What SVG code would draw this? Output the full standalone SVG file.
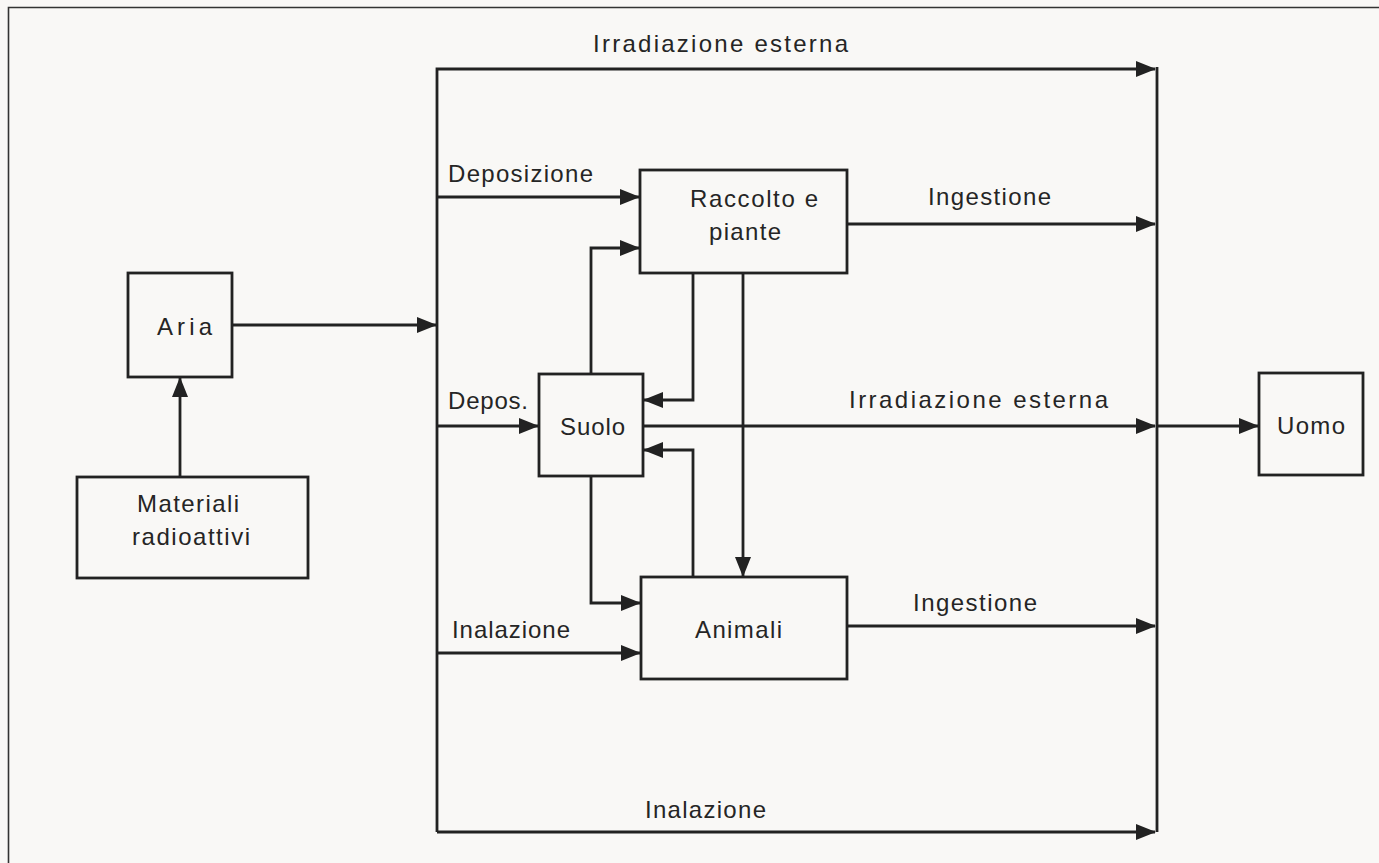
<svg xmlns="http://www.w3.org/2000/svg" width="1379" height="863" viewBox="0 0 1379 863">
<style>
.bg{fill:#f9f8f6}
.box{fill:none;stroke:#222;stroke-width:2.8}
.ln{fill:none;stroke:#222;stroke-width:2.8}
.lbl{font-family:"Liberation Sans",Arial,Helvetica,sans-serif;font-size:24px;fill:#252525}
</style>
<defs>
<marker id="ah" markerUnits="userSpaceOnUse" markerWidth="22" markerHeight="18" refX="19" refY="8" orient="auto">
<path d="M0,0 L20,8 L0,16 z" fill="#222"/>
</marker>
</defs>
<rect class="bg" x="0" y="0" width="1379" height="863"/>
<path d="M8.5,863 V7.5 H1379" fill="none" stroke="#333" stroke-width="1.6"/>

<g id="connectors">
<path class="ln" d="M180,477 V378" marker-end="url(#ah)"/>
<path class="ln" d="M232,325 H436" marker-end="url(#ah)"/>
<path class="ln" d="M437,832 V69 H1155" marker-end="url(#ah)"/>
<path class="ln" d="M437,832 H1155" marker-end="url(#ah)"/>
<path class="ln" d="M1157,67 V832"/>
<path class="ln" d="M437,197 H639" marker-end="url(#ah)"/>
<path class="ln" d="M437,426 H538" marker-end="url(#ah)"/>
<path class="ln" d="M437,653 H640" marker-end="url(#ah)"/>
<path class="ln" d="M847,224 H1155" marker-end="url(#ah)"/>
<path class="ln" d="M847,626 H1155" marker-end="url(#ah)"/>
<path class="ln" d="M643,426 H1155" marker-end="url(#ah)"/>
<path class="ln" d="M1157,426 H1258" marker-end="url(#ah)"/>
<path class="ln" d="M591,374 V248 H639" marker-end="url(#ah)"/>
<path class="ln" d="M693,273 V400 H644" marker-end="url(#ah)"/>
<path class="ln" d="M693,577 V450 H644" marker-end="url(#ah)"/>
<path class="ln" d="M743,273 V576" marker-end="url(#ah)"/>
<path class="ln" d="M591,476 V603 H640" marker-end="url(#ah)"/>
<text class="lbl" x="593" y="52" textLength="255" lengthAdjust="spacing">Irradiazione  esterna</text>
<text class="lbl" x="448" y="182" textLength="145" lengthAdjust="spacing">Deposizione</text>
<text class="lbl" x="928" y="205" textLength="123" lengthAdjust="spacing">Ingestione</text>
<text class="lbl" x="448" y="409" textLength="80" lengthAdjust="spacing">Depos.</text>
<text class="lbl" x="849" y="408" textLength="259" lengthAdjust="spacing">Irradiazione  esterna</text>
<text class="lbl" x="452" y="638" textLength="118" lengthAdjust="spacing">Inalazione</text>
<text class="lbl" x="913" y="611" textLength="124" lengthAdjust="spacing">Ingestione</text>
<text class="lbl" x="645" y="818" textLength="121" lengthAdjust="spacing">Inalazione</text>
</g>

<g id="aria">
<rect class="box" x="128" y="273" width="104" height="104"/>
<text class="lbl" x="157" y="335" textLength="55" lengthAdjust="spacing">Aria</text>
</g>
<g id="materiali">
<rect class="box" x="77" y="477" width="231" height="101"/>
<text class="lbl" x="137" y="512" textLength="102" lengthAdjust="spacing">Materiali</text>
<text class="lbl" x="132" y="545" textLength="118" lengthAdjust="spacing">radioattivi</text>
</g>
<g id="raccolto">
<rect class="box" x="640" y="170" width="207" height="103"/>
<text class="lbl" x="690" y="207" textLength="128" lengthAdjust="spacing">Raccolto e</text>
<text class="lbl" x="709" y="240" textLength="72" lengthAdjust="spacing">piante</text>
</g>
<g id="suolo">
<rect class="box" x="539" y="374" width="104" height="102"/>
<text class="lbl" x="560" y="435" textLength="65" lengthAdjust="spacing">Suolo</text>
</g>
<g id="animali">
<rect class="box" x="641" y="577" width="206" height="102"/>
<text class="lbl" x="695" y="638" textLength="87" lengthAdjust="spacing">Animali</text>
</g>
<g id="uomo">
<rect class="box" x="1259" y="373" width="104" height="102"/>
<text class="lbl" x="1277" y="434" textLength="68" lengthAdjust="spacing">Uomo</text>
</g>
</svg>
